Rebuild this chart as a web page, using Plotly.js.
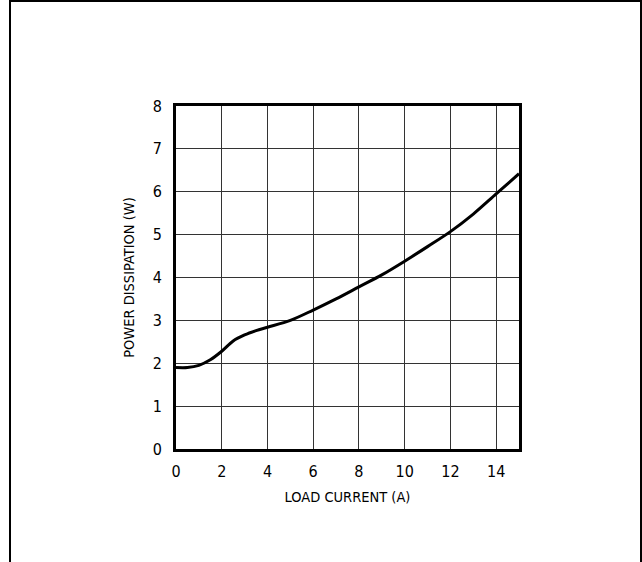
<!DOCTYPE html>
<html>
<head>
<meta charset="utf-8">
<script src="https://cdn.plot.ly/plotly-3.0.1.min.js"></script>
<style>
  html, body { margin: 0; padding: 0; background: #fff; }
  #frame { position: absolute; left: 9px; top: 0px; width: 633px; height: 562px;
           border-left: 2px solid #000; border-top: 2px solid #000; border-right: 2px solid #000; box-sizing: border-box; }
  #chart { position: absolute; left: 0; top: 0; width: 642px; height: 562px; }
</style>
</head>
<body>
<div id="frame"></div>
<div id="chart"></div>
<script>
const loadCurrent = [0, 0.5, 1, 1.5, 2, 2.5, 3, 3.5, 4, 5, 6, 7, 8, 9, 10, 11, 12, 13, 14, 15];
const powerDissipation = [1.90, 1.90, 1.95, 2.08, 2.28, 2.52, 2.66, 2.76, 2.84, 3.0, 3.24, 3.5, 3.78, 4.06, 4.38, 4.72, 5.07, 5.48, 5.95, 6.42];
const xTicks = [0, 2, 4, 6, 8, 10, 12, 14];
const yTicks = [0, 1, 2, 3, 4, 5, 6, 7, 8];

const family = '"Liberation Sans Narrow", "DejaVu Sans Condensed", "Roboto Condensed", Arial, sans-serif';
const tickFont = { family: family, size: 16, color: '#000' };
const titleFont = { family: family, size: 14.5, color: '#000' };

const trace = {
  x: loadCurrent, y: powerDissipation, type: 'scatter', mode: 'lines',
  line: { color: '#000', width: 3, shape: 'spline', smoothing: 0.9 },
  hoverinfo: 'skip'
};

const layout = {
  width: 642, height: 562,
  margin: { l: 176, r: 123, t: 106, b: 113 },
  paper_bgcolor: 'rgba(0,0,0,0)', plot_bgcolor: '#fff',
  showlegend: false,
  font: tickFont,
  xaxis: {
    range: [0, 15], tickvals: xTicks, ticktext: xTicks.map(String),
    showgrid: true, gridcolor: '#333', gridwidth: 1,
    showline: true, linecolor: '#000', linewidth: 3, mirror: true,
    ticks: 'outside', ticklen: 6, tickcolor: 'rgba(0,0,0,0)',
    zeroline: false, tickfont: tickFont,
    title: { text: 'LOAD CURRENT (A)', font: titleFont, standoff: 12 }
  },
  yaxis: {
    range: [0, 8], tickvals: yTicks, ticktext: yTicks.map(String),
    showgrid: true, gridcolor: '#333', gridwidth: 1,
    showline: true, linecolor: '#000', linewidth: 3, mirror: true,
    ticks: 'outside', ticklen: 8, tickcolor: 'rgba(0,0,0,0)',
    zeroline: false, tickfont: tickFont,
    title: { text: 'POWER DISSIPATION (W)', font: titleFont, standoff: 15 }
  }
};

Plotly.newPlot('chart', [trace], layout, { displayModeBar: false, staticPlot: true });
</script>
</body>
</html>
